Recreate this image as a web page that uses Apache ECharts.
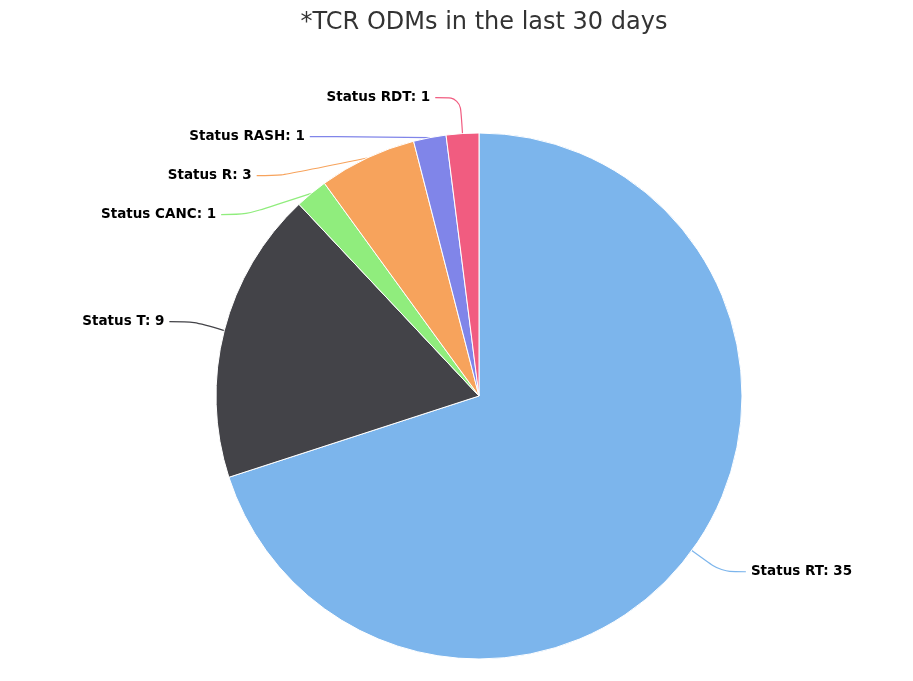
<!DOCTYPE html>
<html><head><meta charset="utf-8">
<script src="https://cdn.jsdelivr.net/npm/echarts@6/dist/echarts.min.js"></script>
<style>html,body{margin:0;padding:0;background:#fff}#c{width:913px;height:681px}</style>
</head><body><div id="c"></div>
<script>
const categories = ['Status RT','Status T','Status CANC','Status R','Status RASH','Status RDT'];
const values = [35, 9, 1, 3, 1, 1];
const colors = ['#7cb5ec','#434348','#90ed7d','#f7a35c','#8085e9','#f15c80'];
const chart = echarts.init(document.getElementById('c'));
chart.setOption({
  animation: false,
  title: {
    text: '*TCR ODMs in the last 30 days',
    left: 479, textAlign: 'center', top: 6,
    textStyle: {fontFamily: 'DejaVu Sans', fontSize: 24, fontWeight: 'normal', color: '#333333'}
  },
  series: [{
    type: 'pie',
    center: [479, 396],
    radius: 263,
    startAngle: 90,
    clockwise: true,
    itemStyle: {borderColor: '#ffffff', borderWidth: 1},
    label: {
      formatter: '{b}: {c}',
      fontFamily: 'DejaVu Sans', fontSize: 13.5, fontWeight: 'bold', color: '#000000',
      lineHeight: 37
    },
    labelLine: {length: 36, length2: 25, smooth: 0.3, lineStyle: {width: 1.2}},
    emphasis: {disabled: true},
    data: categories.map((n, i) => ({name: n, value: values[i], itemStyle: {color: colors[i]}, labelLine: {lineStyle: {color: colors[i]}}}))
  }]
});
</script></body></html>
